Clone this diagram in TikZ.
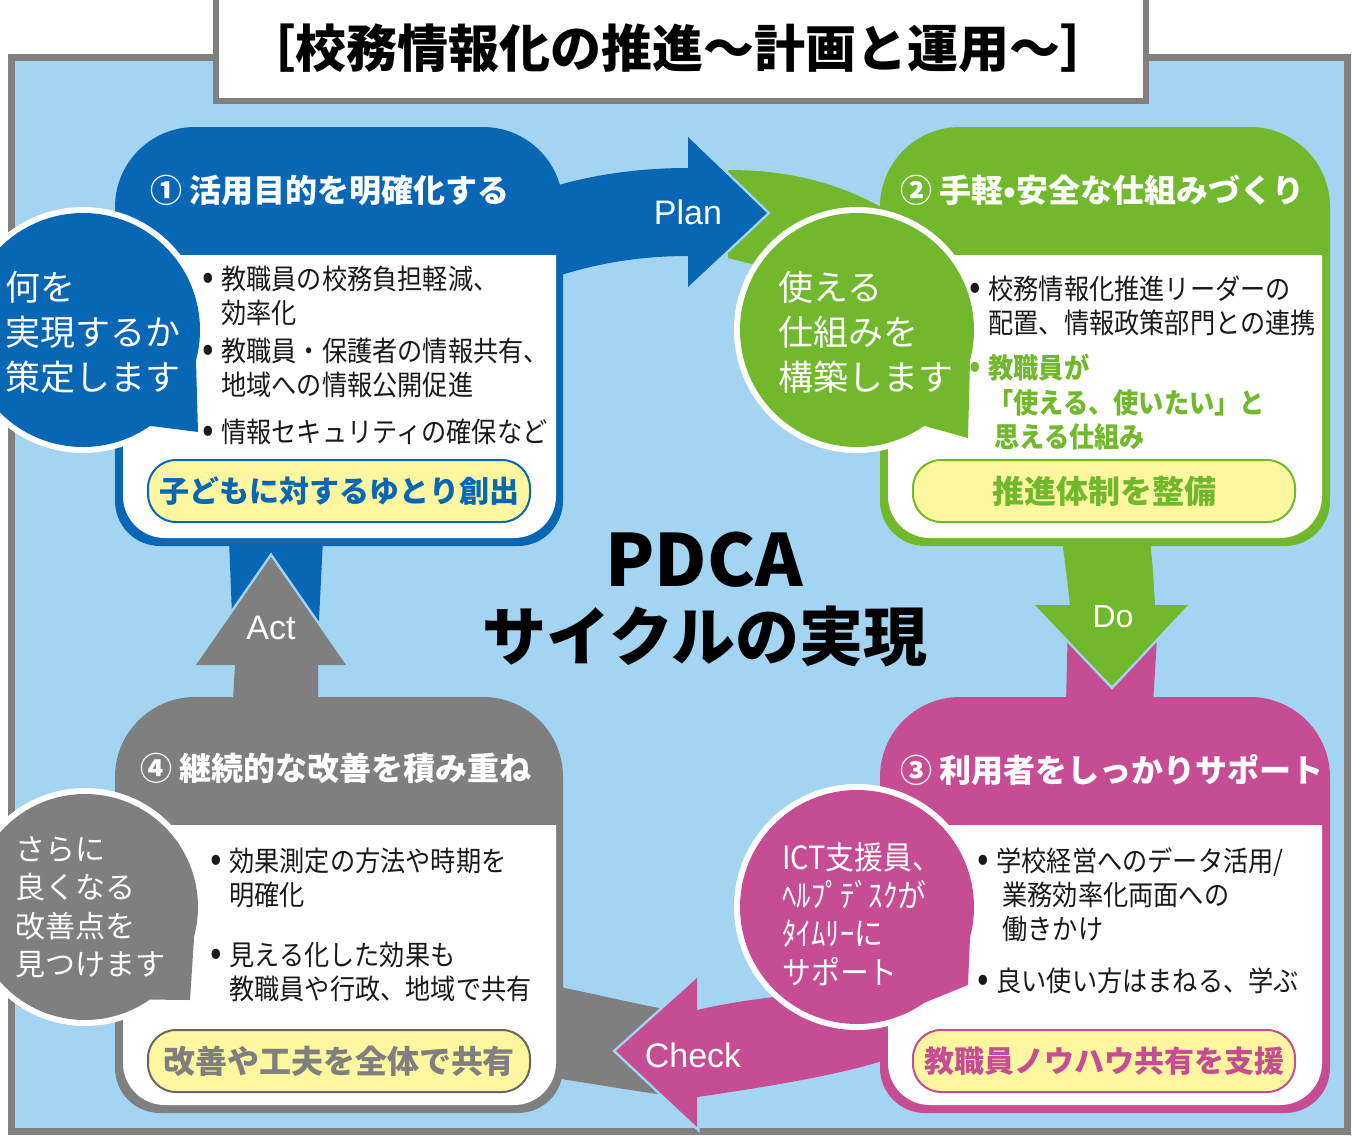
\documentclass[tikz,border=0pt]{standalone}
\usepackage{fontspec}
\setmainfont{Noto Sans CJK JP}
\newfontfamily\jp{Noto Sans CJK JP}
\newfontfamily\jpn{Noto Sans CJK JP}[FakeStretch=0.9]
\newfontfamily\lat{Liberation Sans}
\usetikzlibrary{calc}
\definecolor{sky}{HTML}{A3D4F1}
\definecolor{frame}{HTML}{808080}
\definecolor{qblue}{HTML}{0867B5}
\definecolor{qgreen}{HTML}{72B82C}
\definecolor{qpink}{HTML}{C64C94}
\definecolor{qgray}{HTML}{7F7F7F}
\definecolor{yell}{HTML}{FFF6A0}
\definecolor{ink}{HTML}{1A1A1A}
\tikzset{
    ybox/.style={
        draw, rounded corners=14pt, fill=yell, line width=1pt,
        minimum width=191pt, minimum height=31pt, inner sep=0pt,
        font=\jp\bfseries\fontsize{15}{15}\selectfont
    }
}
\newcommand{\bl}{\makebox[9.5pt][l]{\fontsize{19}{17}\selectfont•}}
% box with big top corners: colour, x0, y0, x1, y1
\newcommand{\qbox}[5]{%
  \fill[#1] (#2,#3+80) arc[start angle=180,end angle=270,radius=80]
    -- (#4-80,#3) arc[start angle=270,end angle=360,radius=80]
    -- (#4,#5-45) arc[start angle=0,end angle=90,radius=45]
    -- (#2+45,#5) arc[start angle=90,end angle=180,radius=45] -- cycle;}
\newcommand{\qpanel}[4]{%
  \fill[white] (#1,#2) -- (#3,#2) -- (#3,#4-42) arc[start angle=0,end angle=90,radius=42]
    -- (#1+42,#4) arc[start angle=90,end angle=180,radius=42] -- cycle;}
% speech bubble: colour, cx, cy, r, tip x, tip y
\newcommand{\bubble}[6]{%
  \draw[white, line width=6pt, line join=round] (#2,#3) circle[radius=#4]
    ($(#2,#3)+(15:#4)$) -- (#5,#6) -- ($(#2,#3)+(55:#4)$);
  \fill[#1] (#2,#3) circle[radius=#4]
    ($(#2,#3)+(15:#4)$) -- (#5,#6) -- ($(#2,#3)+(55:#4)$) -- (#2,#3) -- cycle;}

\begin{document}
\begin{tikzpicture}[x=0.5pt, y=-0.5pt,
        items/.style={anchor=north west, inner sep=0pt, text=ink,
            font=\jpn\fontsize{14}{17}\selectfont},
        say/.style={anchor=west, align=left, inner sep=0pt, text=white},
        hdr/.style={anchor=west, inner sep=0pt, text=white,
            font=\jp\bfseries\fontsize{16}{16}\selectfont},
        lab/.style={text=white, inner sep=0pt, font=\lat\fontsize{17}{17}\selectfont}
      ]
    \useasboundingbox (0,0) rectangle (1367,1136);
    \fill[white] (0,0) rectangle (1367,1136);
    \draw[frame, line width=3.5pt, fill=sky] (11,57) rectangle (1347,1131);
    \draw[frame, line width=3pt, fill=white] (216,-5) rectangle (1146,101);
    \node[font=\jp\bfseries\fontsize{25.5}{25.5}\selectfont] (title) at (678,48)
        {［校務情報化の推進～計画と運用～］};

    \fill[qgreen] (728,170) .. controls (800,170) and (850,188) .. (895,215)
        -- (895,300) -- (728,258) -- cycle;
    \fill[qpink] (1068,620) -- (1158,620) -- (1153,705) -- (1066,705) -- cycle;
    \fill[qgray] (555,986) .. controls (600,995) and (640,1005) .. (680,1012)
        -- (680,1097) .. controls (640,1092) and (600,1085) .. (555,1078) -- cycle;
    \fill[qblue] (229,540) -- (323,540) -- (318,640) -- (233,640) -- cycle;

    \qbox{qblue}{115}{127}{563}{546}
    \qbox{qgreen}{880}{127}{1330}{546}
    \qbox{qpink}{880}{697}{1330}{1113}
    \qbox{qgray}{115}{697}{563}{1113}

    \draw[sky, line width=2.5pt] (688,137) -- (767,213) -- (688,287) -- cycle;
    \fill[qblue] (555,186) .. controls (600,173) and (645,168) .. (688,168)
        -- (688,137) -- (767,213) -- (688,287) -- (688,256)
        .. controls (645,256) and (600,262) .. (555,277) -- cycle;
    \draw[sky, line width=2.5pt] (1035,605) -- (1112,686) -- (1188,605) -- cycle;
    \fill[qgreen] (1062,540) .. controls (1066,570) .. (1070,605) -- (1035,605)
        -- (1112,686) -- (1188,605) -- (1155,605) .. controls (1153,570) .. (1150,540) -- cycle;
    \draw[sky, line width=2.5pt] (697,978) -- (616,1051) -- (697,1127) -- cycle;
    \fill[qpink] (890,988) .. controls (800,992) and (740,1000) .. (697,1010)
        -- (697,978) -- (616,1051) -- (697,1127) -- (697,1097)
        .. controls (760,1088) and (840,1075) .. (885,1060) -- cycle;
    \draw[sky, line width=2.5pt] (196,665) -- (271,557) -- (346,665) -- cycle;
    \fill[qgray] (233,700) -- (235,665) -- (196,665) -- (271,557) -- (346,665)
        -- (318,665) -- (318,700) -- cycle;

    \qpanel{123}{255}{556}{538}
    \qpanel{888}{255}{1322}{538}
    \qpanel{888}{825}{1322}{1105}
    \qpanel{123}{825}{556}{1105}

    \bubble{qblue}{83}{330}{117}{198}{432}
    \bubble{qgreen}{857}{330}{117}{968}{438}
    \bubble{qpink}{857}{907}{117}{968}{985}
    \bubble{qgray}{85}{907}{113}{190}{1000}

    \node[hdr] (h1) at (150,190) {① 活用目的を明確化する};
    \node[hdr] (h2) at (900,190) {② 手軽•安全な仕組みづくり};
    \node[hdr] (h3) at (900,770) {③ 利用者をしっかりサポート};
    \node[hdr] (h4) at (140,768) {④ 継続的な改善を積み重ね};

    \node[items] (b1) at (202,265) {\begin{tabular}{@{}l@{}l@{}}
        \bl & 教職員の校務負担軽減、\\
            & 効率化\\[2pt]
        \bl & 教職員・保護者の情報共有、\\
            & 地域への情報公開促進\\[6.5pt]
        \bl & 情報セキュリティの確保など
        \end{tabular}};
    \node[items] (b2) at (969,275) {\begin{tabular}{@{}l@{}l@{}}
        \bl & 校務情報化推進リーダーの\\
            & 配置、情報政策部門との連携\\[5.5pt]
        \textcolor{qgreen}{\bl} & \textcolor{qgreen}{\bfseries 教職員が}\\
            & \textcolor{qgreen}{\bfseries 「使える、使いたい」と}\\
            & \textcolor{qgreen}{\bfseries\hspace{3pt}思える仕組み}
        \end{tabular}};
    \node[items] (b3) at (977,847) {\begin{tabular}{@{}l@{}l@{}}
        \bl & 学校経営へのデータ活用/\\
            & \hspace{3pt}業務効率化両面への\\
            & \hspace{3pt}働きかけ\\[9pt]
        \bl & 良い使い方はまねる、学ぶ
        \end{tabular}};
    \node[items] (b4) at (210,847) {\begin{tabular}{@{}l@{}l@{}}
        \bl & 効果測定の方法や時期を\\
            & 明確化\\[13pt]
        \bl & 見える化した効果も\\
            & 教職員や行政、地域で共有
        \end{tabular}};

    \node[ybox, draw=qblue, text=qblue] (y1) at (339,491) {子どもに対するゆとり創出};
    \node[ybox, draw=qgreen, text=qgreen, font=\jp\bfseries\fontsize{16}{16}\selectfont]
        (y2) at (1104,491) {推進体制を整備};
    \node[ybox, draw=qpink, text=qpink] (y3) at (1104,1061) {教職員ノウハウ共有を支援};
    \node[ybox, draw=qgray!80!black, text=qgray, font=\jp\bfseries\fontsize{16}{16}\selectfont]
        (y4) at (339,1061) {改善や工夫を全体で共有};

    \node[say, font=\jp\fontsize{17.5}{22.5}\selectfont] (s1) at (5,332) {何を\\実現するか\\策定します};
    \node[say, font=\jp\fontsize{17.5}{22.5}\selectfont] (s2) at (778,332) {使える\\仕組みを\\構築します};
    \node[say, font=\jpn\fontsize{16}{19.2}\selectfont] (s3) at (782,914)
        {ICT支援員、\\ﾍﾙﾌﾟﾃﾞｽｸが\\ﾀｲﾑﾘｰに\\サポート};
    \node[say, font=\jp\fontsize{15}{19.25}\selectfont] (s4) at (15,907)
        {さらに\\良くなる\\改善点を\\見つけます};

    \node[lab] (plan) at (688,212) {Plan};
    \node[lab, font=\lat\fontsize{16}{16}\selectfont] (do) at (1113,617) {Do};
    \node[lab] (check) at (693,1055) {Check};
    \node[lab] (act) at (271,628) {Act};

    \node[font=\jp\bfseries\fontsize{36}{36}\selectfont] (pdca) at (704,560) {PDCA};
    \node[font=\jp\bfseries\fontsize{32}{32}\selectfont] (cycle) at (705,636) {サイクルの実現};

\end{tikzpicture}
\end{document}
